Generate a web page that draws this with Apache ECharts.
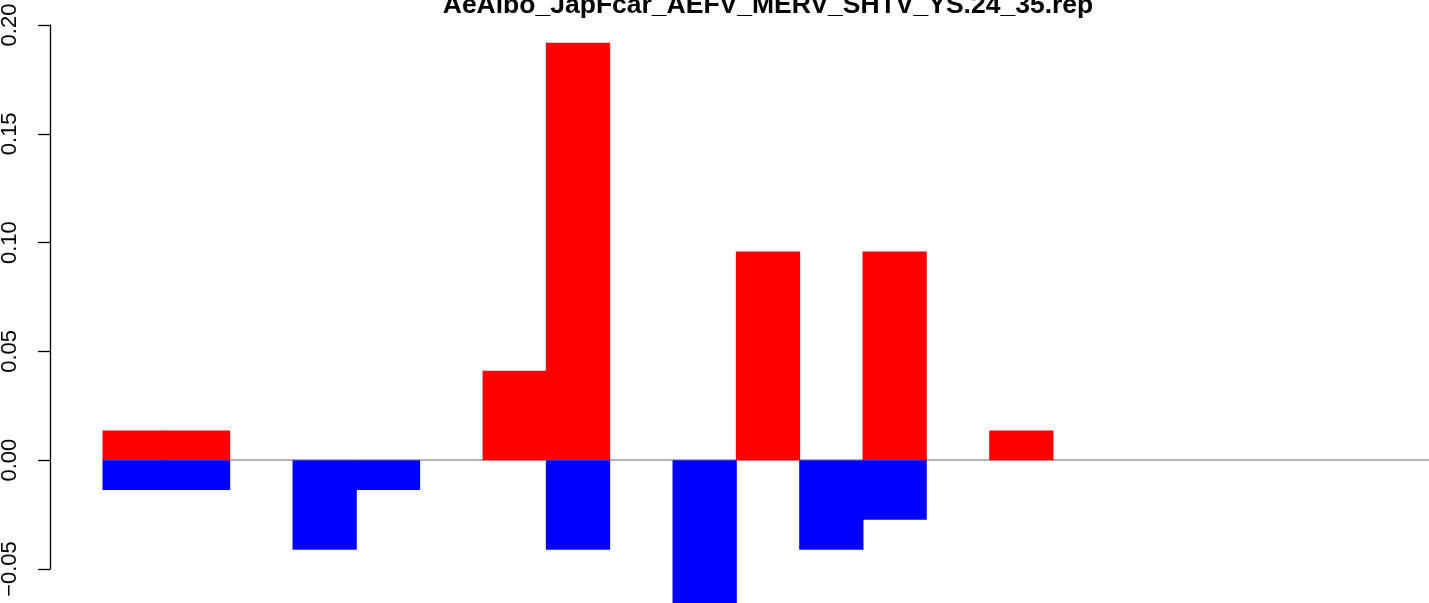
<!DOCTYPE html>
<html>
<head>
<meta charset="utf-8">
<script src="https://cdn.jsdelivr.net/npm/echarts@6/dist/echarts.min.js"></script>
<style>
html,body{margin:0;padding:0;background:#fff;}
#chart{width:1429px;height:603px;}
</style>
</head>
<body>
<div id="chart"></div>
<script>
const titleText = 'AeAlbo_JapFcar_AEFV_MERV_SHTV_YS.24_35.rep';
const categories = ['1','2','3','4','5','6','7','8','9','10','11','12','13','14','15','16','17','18','19','20','21'];
const positiveValues = [0.0137, 0.0137, 0, 0, 0, 0, 0.0411, 0.1918, 0, 0, 0.0959, 0, 0.0959, 0, 0.0137, 0, 0, 0, 0, 0, 0];
const negativeValues = [-0.0137, -0.0137, 0, -0.0411, -0.0137, 0, 0, -0.0411, 0, -0.0685, 0, -0.0411, -0.0274, 0, 0, 0, 0, 0, 0, 0, 0];
const yTicks = [-0.05, 0, 0.05, 0.10, 0.15, 0.20];

// zero-height bars are not drawn (R draws nothing visible for them)
const skipZero = arr => arr.map(v => (v === 0 ? '-' : v));

const chart = echarts.init(document.getElementById('chart'), null, {renderer: 'canvas'});
chart.setOption({
  animation: false,
  backgroundColor: '#ffffff',
  title: {
    text: titleText,
    left: 768,
    top: -8,
    padding: 0,
    textAlign: 'center',
    textStyle: {fontFamily: 'Liberation Sans', fontWeight: 'bold', fontSize: 26.5, color: '#000'}
  },
  grid: {left: 103, top: 25, width: 1330, height: 544, containLabel: false, outerBoundsMode: 'none'},
  xAxis: {
    type: 'category',
    data: categories,
    axisLine: {show: true, onZero: true, lineStyle: {color: '#9a9a9a', width: 1.5}},
    axisTick: {show: false},
    axisLabel: {show: false},
    splitLine: {show: false}
  },
  yAxis: {
    type: 'value',
    min: yTicks[0],
    max: yTicks[yTicks.length - 1],
    interval: 0.05,
    offset: 53,
    axisLine: {show: true, lineStyle: {color: '#000', width: 1.3}},
    axisTick: {show: true, length: 12, lineStyle: {color: '#000', width: 1.3}},
    splitLine: {show: false},
    axisLabel: {
      rotate: 90,
      margin: 29,
      fontFamily: 'Liberation Sans',
      fontSize: 22,
      color: '#000',
      formatter: function (v) { return v.toFixed(2).replace('-', '\u2212'); }
    }
  },
  series: [
    {
      name: 'positive', type: 'bar', stack: 'total', data: skipZero(positiveValues),
      barCategoryGap: '0%', barWidth: '101.5%', clip: false,
      itemStyle: {color: '#ff0000'}
    },
    {
      name: 'negative', type: 'bar', stack: 'total', data: skipZero(negativeValues),
      barCategoryGap: '0%', barWidth: '101.5%', clip: false,
      itemStyle: {color: '#0000ff'}
    }
  ]
});
</script>
</body>
</html>
